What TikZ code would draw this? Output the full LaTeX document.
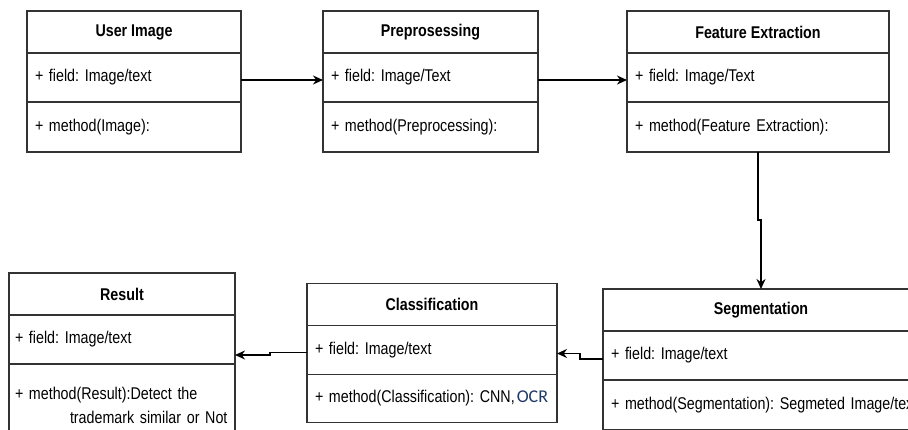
\documentclass[tikz,border=0pt]{standalone}
\usepackage{fontspec}
\setmainfont{Liberation Sans}[FakeStretch=0.84]
\newfontfamily\ocrfont{Carlito}
\usepackage{xcolor}
\usepackage{tikz}
\usetikzlibrary{arrows.meta, positioning}
\definecolor{boxLine}{HTML}{333333}
\definecolor{ocrBlue}{HTML}{1F3864}

\begin{document}
\begin{tikzpicture}[
  x=1pt, y=1pt,
  classhead/.style={rectangle, draw=boxLine, line width=1.3pt, minimum width=#1, minimum height=42pt, outer sep=0pt, inner sep=0pt, font=\fontsize{17}{20}\selectfont\bfseries},
  classrow/.style={rectangle, draw=boxLine, line width=1.3pt, text width=#1, minimum height=49pt, outer sep=0pt, inner xsep=8pt, align=left, font=\fontsize{17}{20}\selectfont\frenchspacing},
  methodrow/.style={classrow=#1, minimum height=50pt},
  arrow/.style={-{Stealth[length=10pt, width=9pt]}, line width=1.5pt, color=black},
]
\useasboundingbox (0,0) rectangle (908,-429);
\clip (0,0) rectangle (908,-429);

% Row 1 — input and preprocessing
\node[classhead=214pt] (user) at (134,-32) {User Image};
\node[classrow=198pt, below=0pt of user] (userfield) {\mbox{+ field: Image/text}};
\node[methodrow=198pt, below=0pt of userfield] (usermethod) {\mbox{+ method(Image):}};

\node[classhead=215pt] (pre) at (430.5,-32) {Preprosessing};
\node[classrow=199pt, below=0pt of pre] (prefield) {\mbox{+ field: Image/Text}};
\node[methodrow=199pt, below=0pt of prefield] (premethod) {\mbox{+ method(Preprocessing):}};

\node[classhead=262pt] (feat) at (758,-32) {Feature Extraction};
\node[classrow=246pt, below=0pt of feat] (featfield) {\mbox{+ field: Image/Text}};
\node[methodrow=246pt, below=0pt of featfield] (featmethod) {\mbox{+ method(Feature Extraction):}};

% Row 2 — segmentation, classification, result
\node[classhead=316pt] (seg) at (761,-310) {Segmentation};
\node[classrow=300pt, below=0pt of seg] (segfield) {\mbox{+ field: Image/text}};
\node[methodrow=300pt, below=0pt of segfield] (segmethod) {\mbox{+ method(Segmentation): Segmeted Image/tex}};

\node[classhead=250pt] (class) at (432,-304.5) {Classification};
\node[classrow=234pt, below=0pt of class] (classfield) {\mbox{+ field: Image/text}};
\node[methodrow=234pt, minimum height=48pt, below=0pt of classfield] (classmethod) {\mbox{+ method(Classification): CNN,\hspace{2pt}{\ocrfont\fontsize{18}{20}\selectfont\color{ocrBlue}OCR}}};

\node[classhead=226pt] (result) at (122,-294) {Result};
\node[classrow=210pt, inner xsep=6pt, text width=214pt, below=0pt of result] (resultfield) {\mbox{+ field: Image/text}};
\node[methodrow=210pt, inner xsep=6pt, text width=214pt, minimum height=82pt, font=\fontsize{17}{24}\selectfont, below=0pt of resultfield] (resultmethod) {\mbox{+ method(Result):Detect the}\\\mbox{\hspace*{55pt}trademark similar or Not}};

% Arrows
\draw[arrow] ([yshift=-2.5pt]userfield.east) -- ([yshift=-2.5pt]prefield.west);
\draw[arrow] ([yshift=-2.5pt]prefield.east) -- ([yshift=-2.5pt]featfield.west);
\draw[arrow] (featmethod.south) -- ++(0,-68) -| (seg.north);
\draw[arrow] ([yshift=-3.5pt]segfield.west) -- ++(-23,0) |- ([yshift=-3.5pt]classfield.east);
\draw[arrow] ([yshift=-2.5pt]classfield.west) -- ++(-37,0) |- ([yshift=-15.5pt]resultfield.east);

\end{tikzpicture}
\end{document}
